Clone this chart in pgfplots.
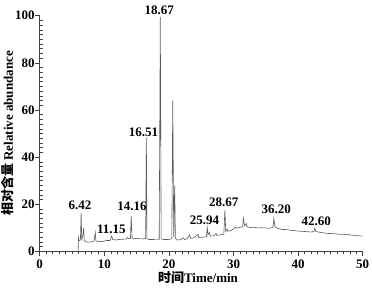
\documentclass[border=0pt]{standalone}
\usepackage{fontspec}
\setmainfont{Liberation Serif}
\newfontfamily\cjk{Noto Sans CJK SC}
\usepackage{pgfplots}
\pgfplotsset{compat=1.18}
\definecolor{trace}{HTML}{5A5A5A}
\begin{document}
\begin{tikzpicture}
\begin{axis}[
  scale only axis, width=323pt, height=235.6pt,
  xmin=0, xmax=50, ymin=0, ymax=100,
  axis lines*=left,
  axis line style={line width=0.6pt, color=black!75},
  xtick={0,10,...,50}, ytick={0,20,...,100},
  minor x tick num=9, minor y tick num=9,
  x tick style={line width=0.5pt, color=black!75},
  y tick style={line width=0.5pt, color=black!75},
  xtick align=outside, ytick align=inside,
  major tick length=4.5pt, minor tick length=3pt,
  every major y tick/.style={xshift=-4.5pt},
  tick label style={font=\fontsize{13}{15}\selectfont\bfseries},
  /pgf/number format/assume math mode=true,
  xticklabel style={yshift=-1pt},
  yticklabel style={xshift=-1.5pt},
  clip=false,
]
\addplot[color=trace, line width=0.6pt] coordinates {
(5.95,0) (6.0,5.8) (6.1,4.5) (6.3,4.8) (6.42,16.3) (6.5,5) (6.6,5.5) (6.8,9.8) (6.9,4.5)
(7.2,4.0) (7.6,3.9) (8.0,4.0) (8.4,4.3) (8.6,8.0) (8.7,4.4) (9.2,4.1) (9.8,4.2)
(10.4,4.6) (10.9,4.6) (11.15,6.4) (11.3,5.0) (11.8,4.8) (12.3,5.0) (12.8,5.1) (13.3,5.2)
(13.6,5.9) (13.8,5.3) (14.05,5.5) (14.16,15.0) (14.3,5.6) (14.6,5.3) (15.0,5.5) (15.5,5.3)
(16.0,5.3) (16.4,5.4) (16.51,48.2) (16.6,5.3) (17.0,5.0) (17.6,5.0) (18.0,5.2) (18.5,5.1)
(18.67,99.5) (18.8,5.3) (19.2,5.0) (19.8,5.0) (20.3,5.2) (20.45,5.5) (20.6,64) (20.75,6)
(20.9,27.9) (21.0,5.5) (21.3,4.8) (21.8,4.9) (22.2,5.8) (22.4,5.0) (22.8,5.3) (23.2,7.0)
(23.35,5.5) (23.8,5.6) (24.5,7.2) (24.6,5.8) (25.2,6.0) (25.8,6.2) (25.94,10.0) (26.05,7.0)
(26.3,8.0) (26.4,6.5) (27.0,6.6) (27.3,7.6) (27.4,6.8) (28.0,7.0) (28.5,7.3) (28.67,17.5)
(28.8,8.5) (29.0,9.5) (29.1,8.5) (29.6,8.8) (30.0,9.5) (30.3,10.2) (30.5,9.8) (31.0,10.2)
(31.4,10.4) (31.55,14.0) (31.7,10.8) (32.0,11.8) (32.1,10.5) (32.6,10.1) (33.2,10.2)
(33.8,9.9) (34.4,10.0) (35.0,9.9) (35.6,9.8) (36.1,10.2) (36.25,14.0) (36.4,10.5)
(36.8,9.8) (37.5,9.3) (38.3,9.2) (39.0,8.9) (40.0,8.6) (41.0,8.4) (42.0,8.2) (42.45,8.4)
(42.6,9.9) (42.75,8.4) (43.5,8.0) (44.5,7.6) (45.5,7.5) (46.5,7.2) (47.5,7.2) (48.2,6.9)
(48.6,6.8) (49.3,6.6) (50.0,6.5)
};
\begin{scope}[every node/.style={font=\fontsize{13}{15}\selectfont\bfseries, inner sep=0pt}]
\node at (axis cs:6.25,19.7) {6.42};
\node at (axis cs:11.1,9.3) {11.15};
\node at (axis cs:14.3,19.0) {14.16};
\node at (axis cs:16.05,50.4) {16.51};
\node at (axis cs:18.5,102.4) {18.67};
\node at (axis cs:25.5,13.3) {25.94};
\node at (axis cs:28.5,20.6) {28.67};
\node at (axis cs:36.6,17.8) {36.20};
\node at (axis cs:42.8,12.9) {42.60};
\end{scope}
\node[font=\fontsize{13}{15}\selectfont\bfseries, inner sep=0pt] at ([yshift=-26.7pt]rel axis cs:0.49,0) {{\cjk 时间}Time/min};
\node[font=\fontsize{13}{15}\selectfont\bfseries, inner sep=0pt, rotate=90] at ([xshift=-31.7pt]rel axis cs:0,0.5) {{\cjk 相对含量} Relative abundance};
\end{axis}
\pgfresetboundingbox
\path (-39.7pt,-38.7pt) rectangle (332.3pt,251.3pt);
\end{tikzpicture}
\end{document}
